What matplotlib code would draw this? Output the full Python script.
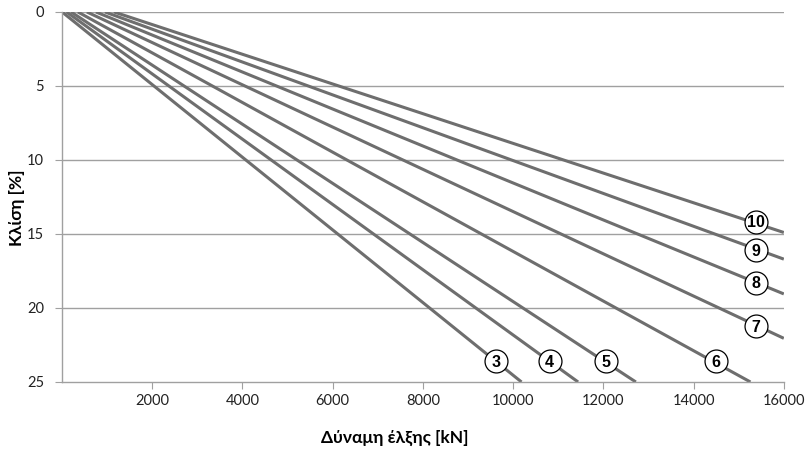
import numpy as np
import matplotlib
matplotlib.use("Agg")
import matplotlib.pyplot as plt

plt.rcParams["font.family"] = ["Lato", "DejaVu Sans"]

# Line ids and their endpoints (force in kN, slope in %)
line_ids = ["3", "4", "5", "6", "7", "8", "9", "10"]
start_force = [0, 100, 200, 350, 550, 750, 950, 1150]
end_force = [10185, 11440, 12720, 15260, 16000, 16000, 16000, 16000]
end_slope = [25, 25, 25, 25, 22.05, 19.05, 16.7, 14.9]

# label positions (on the lines)
label_force = [9620, 10810, 12050, 14490, 15380, 15380, 15380, 15380]
label_slope = [23.6, 23.6, 23.6, 23.6, 21.25, 18.3, 16.1, 14.2]

x_ticks = [2000, 4000, 6000, 8000, 10000, 12000, 14000, 16000]
y_ticks = [0, 5, 10, 15, 20, 25]

line_color = "#6e6e6e"
axis_color = "#a0a0a0"

fig = plt.figure(figsize=(8.11, 4.51), dpi=100)
ax = fig.add_axes([0.0765, 0.153, 0.89, 0.8205])

for yv in y_ticks[:-1]:
    ax.axhline(yv, color=axis_color, lw=1.0, zorder=1)

for i in range(len(line_ids)):
    ax.plot([start_force[i], end_force[i]], [0, end_slope[i]],
            color=line_color, lw=2.2, solid_capstyle="butt", zorder=2)
    ax.plot(label_force[i], label_slope[i], marker="o", ms=16.5, mfc="white",
            mec="black", mew=0.9, zorder=3)
    ax.text(label_force[i], label_slope[i] + 0.05, line_ids[i], ha="center", va="center",
            fontsize=11.5, fontweight="bold", color="black", zorder=4,
            family=["Liberation Sans", "DejaVu Sans"])

ax.set_xlim(0, 16000)
ax.set_ylim(25, 0)
ax.set_xticks(x_ticks)
ax.set_yticks(y_ticks)
ax.tick_params(axis="both", colors=axis_color, labelcolor="#222222", labelsize=10.5,
               length=5, direction="out")
ax.tick_params(axis="y", pad=8)

for s in ["top", "right"]:
    ax.spines[s].set_visible(False)
for s in ["left", "bottom"]:
    ax.spines[s].set_color(axis_color)
    ax.spines[s].set_linewidth(1.0)

ax.set_xlabel("Δύναμη έλξης [kN]", fontsize=12.5, fontweight="bold")
ax.set_ylabel("Κλίση [%]", fontsize=12.5, fontweight="bold")
ax.xaxis.set_label_coords(0.461, -0.128)
ax.yaxis.set_label_coords(-0.052, 0.47)

fig.savefig("out.png", dpi=100)
